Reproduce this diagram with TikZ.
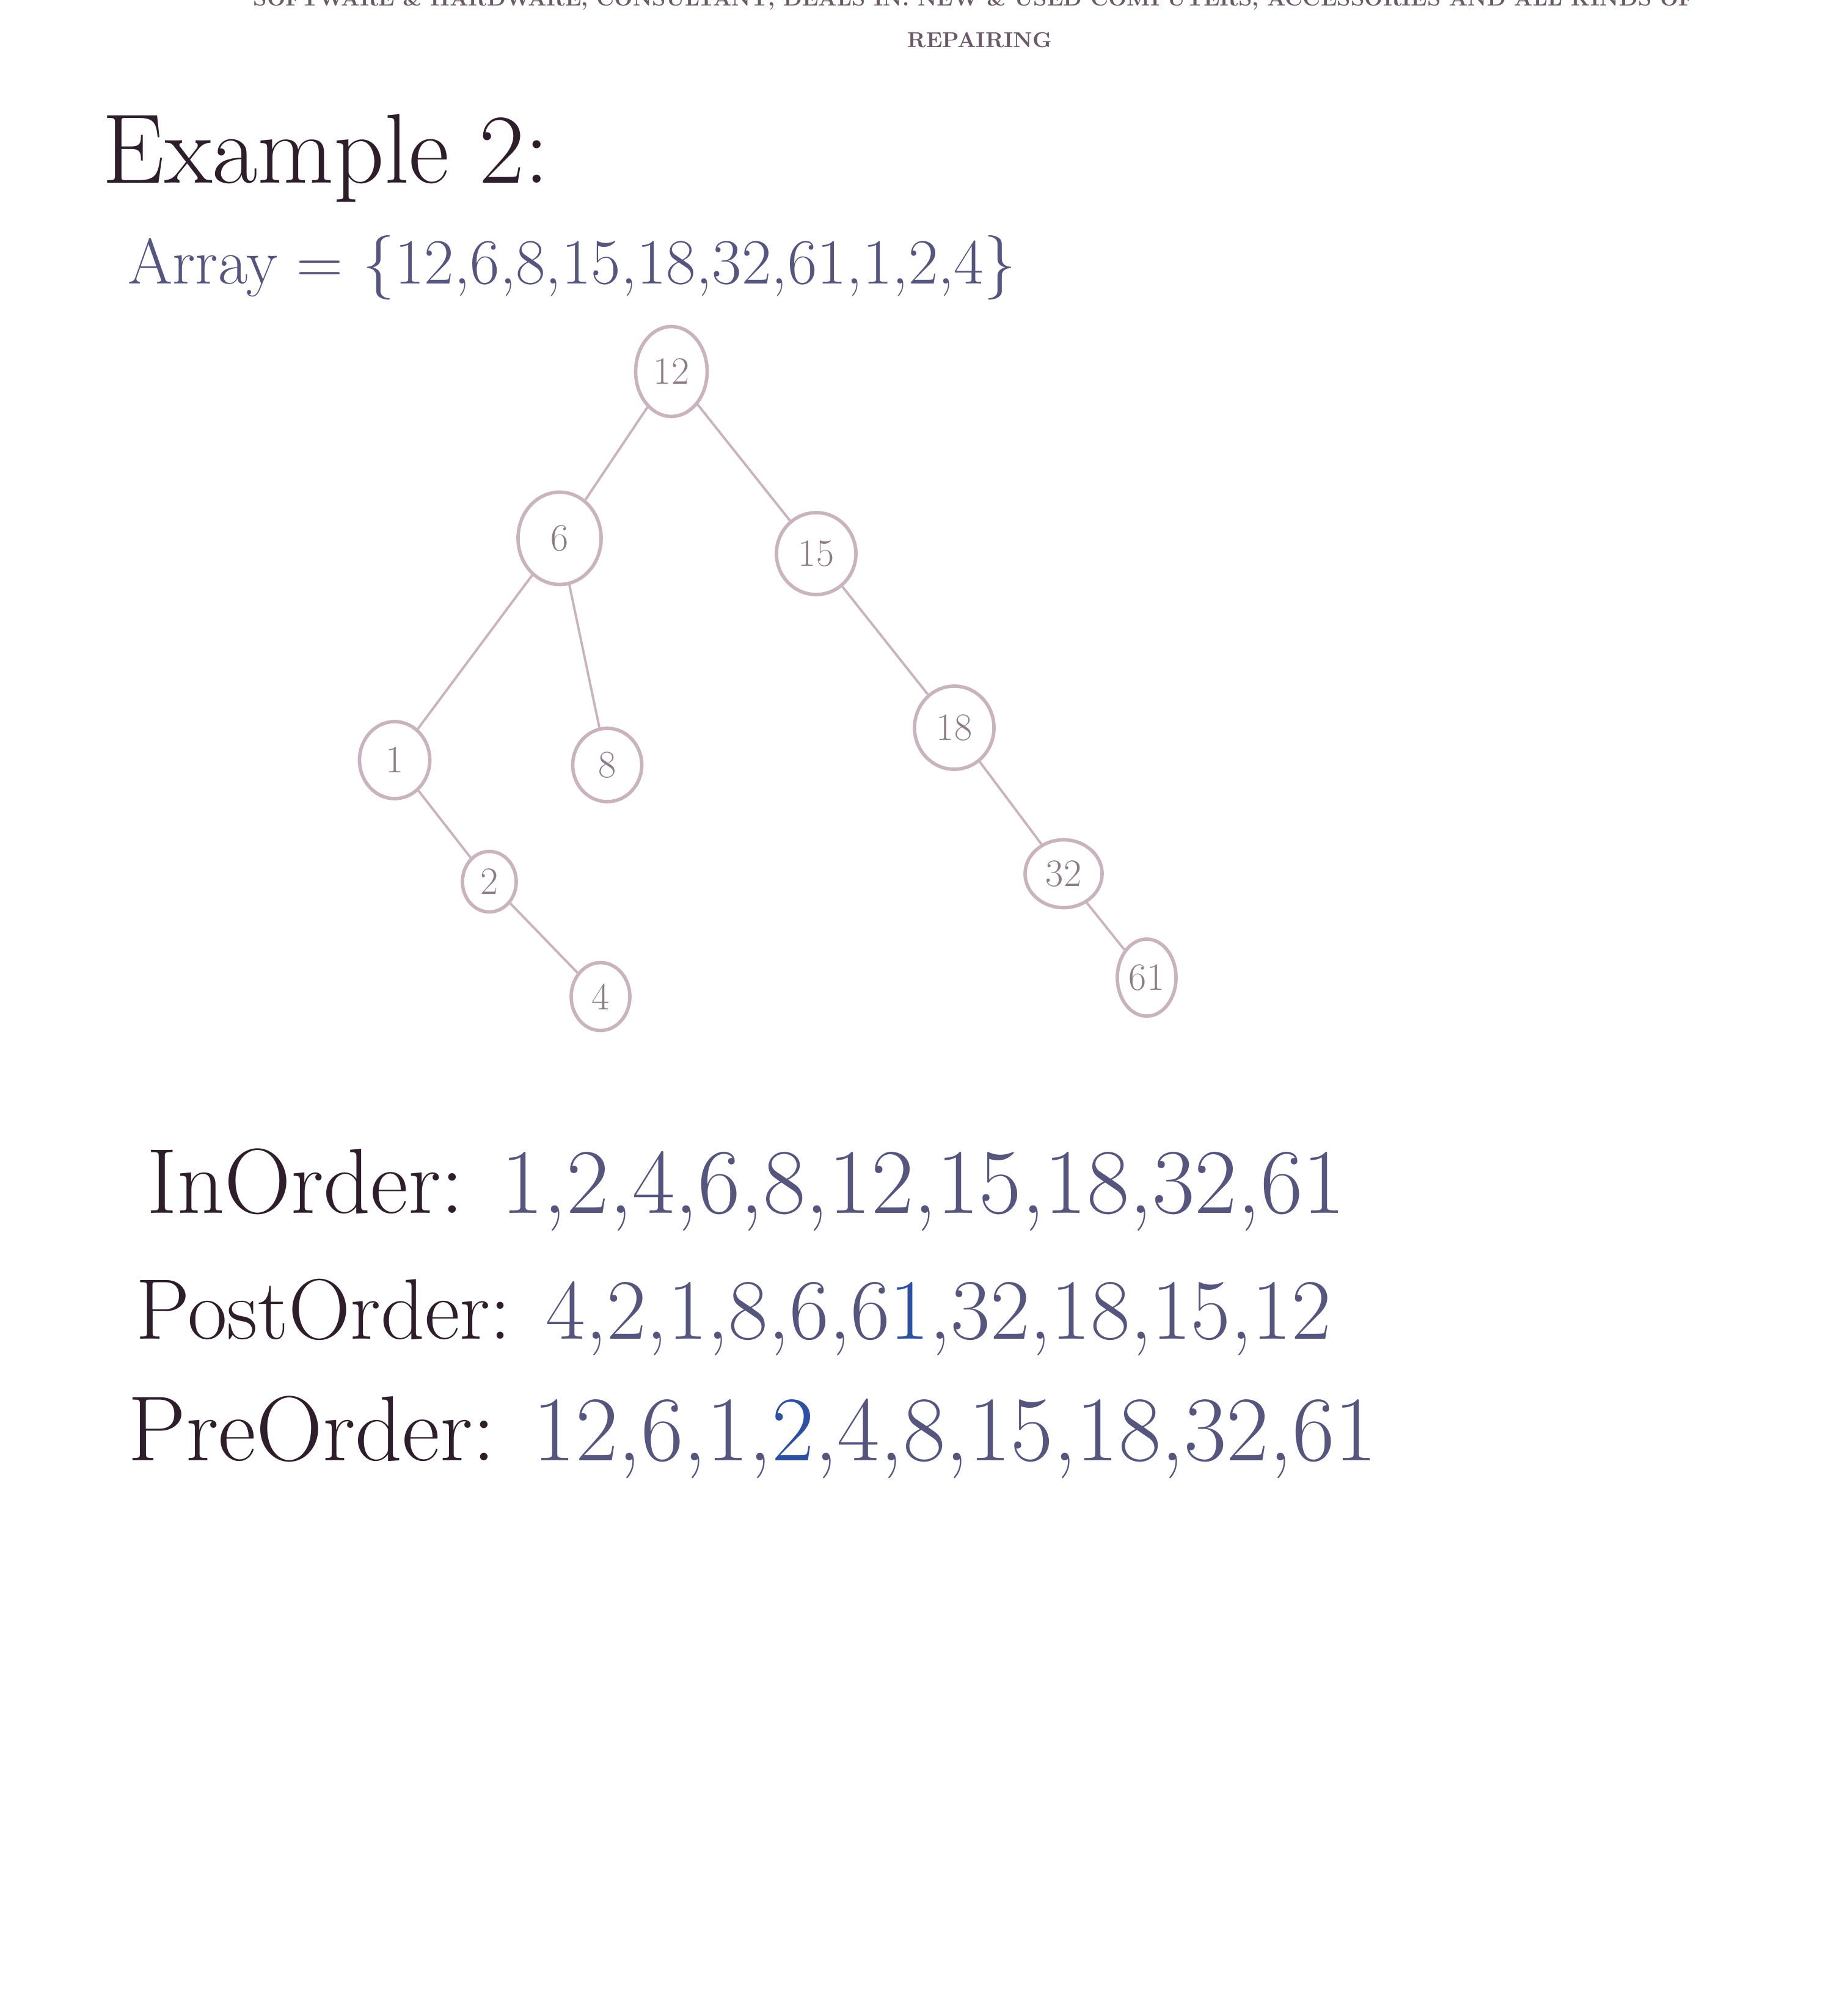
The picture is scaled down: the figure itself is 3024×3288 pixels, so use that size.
\documentclass[tikz,border=0pt]{standalone}
\usepackage{tikz}
\usetikzlibrary{positioning}
\usetikzlibrary{shapes.geometric}
\definecolor{pencil}{HTML}{C9B4BD}
\definecolor{pencildark}{HTML}{8C7C88}
\definecolor{ink}{HTML}{2E1E2B}
\definecolor{blueink}{HTML}{55557E}
\definecolor{fixink}{HTML}{2F4FA0}
\definecolor{print}{HTML}{6A5A68}
\tikzset{
    treenode/.style={
      ellipse,
           draw=pencil, line width=1.6pt,
           inner sep=0pt,
           text=pencildark,
           font=\fontsize{18}{18}\selectfont,
           },
}
\tikzset{
    orderline/.style={
      anchor=base west,
           text=ink,
           font=\fontsize{40}{40}\selectfont,
           },
}
\tikzset{
    branch/.style={
      draw=pencil, line width=1.1pt,
           },
}

\begin{document}
\begin{tikzpicture}[x=0.01cm,y=-0.01cm]
\useasboundingbox (0,0) rectangle (3024,3288);
\clip (0,0) rectangle (3024,3288);

% letterhead
\node[anchor=base,text=print,font=\fontsize{10}{10}\selectfont\bfseries](head) at (1594,10){SOFTWARE \& HARDWARE, CONSULTANT, DEALS IN: NEW \& USED COMPUTERS, ACCESSORIES AND ALL KINDS OF};
\node[anchor=base,text=print,font=\fontsize{10}{10}\selectfont\bfseries](rep) at (1604,78){REPAIRING};

\node[anchor=base west,text=ink,font=\fontsize{46}{46}\selectfont](title) at (155,300){Example 2:};
\node[anchor=base west,text=blueink,font=\fontsize{30}{30}\selectfont](arr) at (197,465){Array = \{12,6,8,15,18,32,61,1,2,4\}};

% the tree
\node[treenode,minimum width=1.17cm,minimum height=1.47cm](n12) at (1099,608){12};
\node[treenode,minimum width=1.36cm,minimum height=1.51cm](n6) at (916,881){6};
\node[treenode,minimum width=1.30cm,minimum height=1.34cm](n15) at (1336,906){15};
\node[treenode,minimum width=1.15cm,minimum height=1.26cm](n1) at (646,1244){1};
\node[treenode,minimum width=1.13cm,minimum height=1.20cm](n8) at (994,1252){8};
\node[treenode,minimum width=1.30cm,minimum height=1.36cm](n18) at (1562,1191){18};
\node[treenode,minimum width=0.88cm,minimum height=0.99cm](n2) at (801,1443){2};
\node[treenode,minimum width=1.26cm,minimum height=1.11cm](n32) at (1741,1430){32};
\node[treenode,minimum width=0.96cm,minimum height=1.11cm](n4) at (983,1631){4};
\node[treenode,minimum width=0.96cm,minimum height=1.26cm](n61) at (1877,1600){61};

\path (n12) edge[branch](n6);
\path (n12) edge[branch](n15);
\path (n6) edge[branch](n1);
\path (n6) edge[branch](n8);
\path (n15) edge[branch](n18);
\path (n1) edge[branch](n2);
\path (n2) edge[branch](n4);
\path (n18) edge[branch](n32);
\path (n32) edge[branch](n61);

% traversals
\node[orderline,font=\fontsize{43}{43}\selectfont](ino) at (228,1985){InOrder: \textcolor{blueink}{1,2,4,6,8,12,15,18,32,61}};
\node[orderline](posto) at (210,2191){PostOrder: \textcolor{blueink}{4,2,1,8,6,6\textcolor{fixink}{1},32,18,15,12}};
\node[orderline,font=\fontsize{43}{43}\selectfont](preo) at (197,2390){PreOrder: \textcolor{blueink}{12,6,1,\textcolor{fixink}{2},4,8,15,18,32,61}};

\end{tikzpicture}
\end{document}
